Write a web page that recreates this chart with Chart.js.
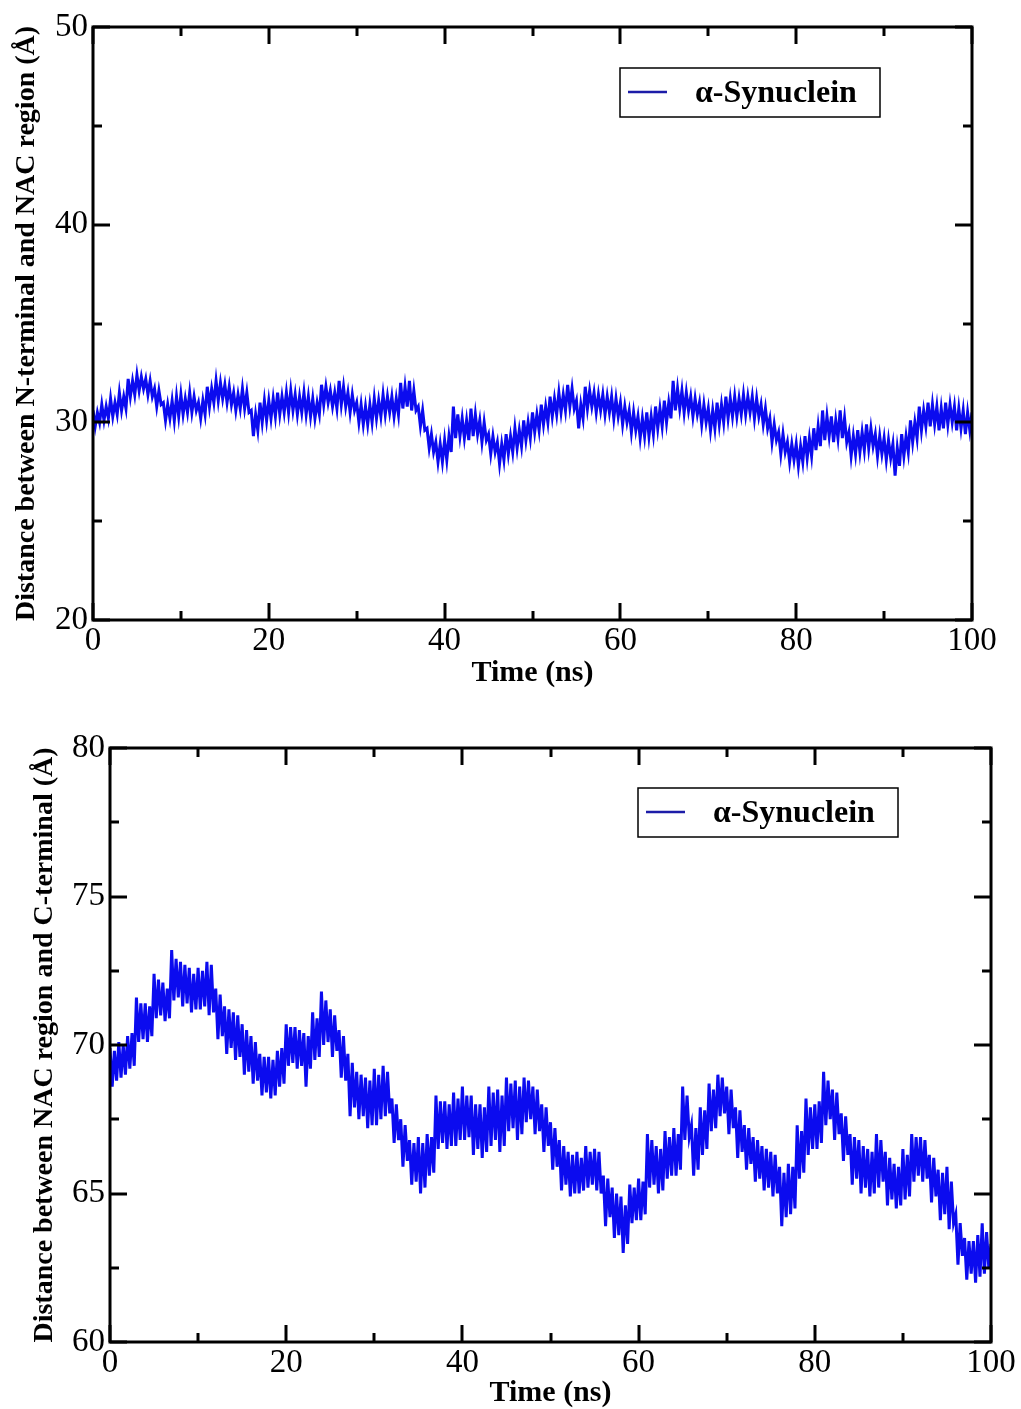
<!DOCTYPE html>
<html>
<head>
<meta charset="utf-8">
<script src="https://cdn.jsdelivr.net/npm/chart.js"></script>
<style>
  body { margin: 0; background: #fff; }
  #wrap { position: relative; width: 1021px; height: 1409px; }
  canvas { position: absolute; left: 0; }
</style>
</head>
<body>
<div id="wrap">
  <canvas id="topChart" width="1021" height="700" style="top:0"></canvas>
  <canvas id="bottomChart" width="1021" height="709" style="top:700px"></canvas>
</div>
<script>
// sampling interval of the trajectory (ns)
const timeStep = 0.25;

// distance between N-terminal and NAC region (Å), every 0.25 ns
const nTermNacDist = [
  30.6, 29.8, 30.5, 30.0, 30.9, 30.1, 30.8, 30.2, 31.2, 30.3, 31.0, 30.4, 31.5, 30.6, 31.3, 30.7, 32.2, 31.3, 32.1, 31.4,
  32.4, 31.6, 32.3, 31.7, 32.2, 31.4, 32.1, 31.3, 31.7, 30.8, 31.6, 30.9, 31.0, 30.1, 30.9, 30.2, 31.1, 30.1, 31.3, 30.3,
  31.4, 30.4, 31.2, 30.5, 31.5, 30.5, 31.3, 30.6, 31.0, 30.2, 31.1, 30.4, 31.8, 30.8, 31.7, 31.0, 32.1, 31.1, 32.0, 31.2,
  31.9, 31.0, 31.8, 30.9, 31.5, 30.6, 31.4, 30.7, 31.7, 30.7, 31.5, 30.5, 30.6, 29.3, 30.4, 29.6, 31.0, 30.0, 31.1, 30.1,
  31.1, 30.2, 31.2, 30.3, 31.5, 30.4, 31.3, 30.5, 31.5, 30.5, 31.6, 30.6, 31.4, 30.4, 31.3, 30.5, 31.5, 30.4, 31.3, 30.3,
  31.2, 30.2, 31.0, 30.4, 31.9, 30.9, 31.8, 31.0, 31.6, 30.8, 31.5, 30.7, 32.1, 30.9, 31.8, 30.8, 31.5, 30.5, 31.4, 30.6,
  31.0, 30.0, 30.9, 29.9, 30.8, 29.9, 30.9, 30.0, 31.2, 30.2, 31.1, 30.3, 31.4, 30.4, 31.3, 30.5, 31.3, 30.3, 31.2, 30.4,
  32.0, 30.7, 31.8, 30.8, 32.1, 30.6, 31.6, 30.6, 30.8, 29.8, 30.6, 29.6, 29.7, 28.7, 29.4, 28.5, 29.0, 28.0, 28.9, 28.0,
  29.1, 28.1, 29.3, 28.5, 30.8, 29.2, 30.4, 29.3, 30.2, 29.2, 30.1, 29.1, 30.7, 29.3, 30.4, 29.4, 30.1, 29.0, 30.0, 29.1,
  29.4, 28.4, 29.3, 28.5, 29.0, 27.9, 28.9, 28.1, 29.4, 28.4, 29.3, 28.5, 29.7, 28.7, 29.6, 28.8, 30.1, 29.1, 30.0, 29.2,
  30.5, 29.5, 30.4, 29.6, 30.9, 29.9, 30.8, 30.0, 31.3, 30.3, 31.2, 30.4, 31.5, 30.5, 31.4, 30.6, 31.9, 30.8, 31.7, 30.7,
  31.1, 29.7, 30.9, 30.2, 31.8, 30.7, 31.6, 30.8, 31.5, 30.5, 31.4, 30.6, 31.4, 30.4, 31.3, 30.5, 31.3, 30.2, 31.2, 30.3,
  31.0, 29.9, 30.8, 30.0, 30.6, 29.5, 30.5, 29.6, 30.3, 29.2, 30.2, 29.3, 30.5, 29.3, 30.3, 29.4, 30.8, 29.7, 30.7, 29.8,
  31.1, 30.0, 31.0, 30.2, 32.1, 30.6, 31.7, 30.7, 31.6, 30.5, 31.5, 30.6, 31.3, 30.3, 31.2, 30.4, 31.0, 29.9, 30.9, 30.0,
  30.7, 29.6, 30.6, 29.7, 31.0, 29.9, 30.9, 30.0, 31.3, 30.2, 31.2, 30.3, 31.3, 30.3, 31.2, 30.4, 31.4, 30.4, 31.3, 30.5,
  31.3, 30.2, 31.2, 30.3, 30.9, 29.9, 30.7, 29.7, 30.2, 29.0, 29.9, 29.1, 29.5, 28.4, 29.4, 28.5, 29.0, 28.0, 28.9, 28.1,
  28.9, 27.8, 28.8, 28.0, 29.3, 28.2, 29.2, 28.3, 29.7, 28.6, 29.8, 28.8, 30.6, 29.1, 30.3, 29.3, 30.3, 29.0, 30.1, 29.2,
  30.6, 29.2, 30.2, 29.0, 29.5, 28.3, 29.3, 28.4, 29.6, 28.5, 29.5, 28.6, 29.9, 28.7, 29.7, 28.8, 29.4, 28.3, 29.3, 28.4,
  29.2, 28.1, 29.1, 28.2, 28.9, 27.3, 28.7, 27.8, 29.4, 28.3, 29.3, 28.5, 30.1, 29.0, 30.0, 29.2, 30.8, 29.6, 30.6, 29.8,
  31.0, 29.8, 30.9, 29.9, 30.8, 29.6, 30.7, 29.7, 31.0, 29.9, 30.9, 30.0, 30.8, 29.6, 30.7, 29.7, 30.6, 29.4, 30.5, 29.6,
  30.5
];

// distance between NAC region and C-terminal (Å), every 0.25 ns
const nacCTermDist = [
  69.9, 68.6, 69.8, 68.8, 70.1, 68.9, 70.0, 69.0, 70.3, 69.2, 70.4, 69.3, 71.6, 70.1, 71.4, 70.2, 71.4, 70.1, 71.3, 70.3,
  72.4, 70.9, 72.2, 71.0, 72.1, 70.8, 71.9, 70.9, 73.2, 71.5, 72.9, 71.6, 72.8, 71.3, 72.7, 71.4, 72.6, 71.1, 72.4, 71.2,
  72.6, 71.2, 72.5, 71.3, 72.8, 71.0, 72.7, 71.1, 71.9, 70.2, 71.7, 70.3, 71.3, 69.7, 71.2, 69.9, 71.1, 69.5, 71.0, 69.6,
  70.7, 69.0, 70.5, 69.1, 70.3, 68.7, 70.1, 68.8, 69.7, 68.3, 69.6, 68.4, 69.6, 68.2, 69.5, 68.3, 69.8, 68.6, 69.9, 68.7,
  70.7, 69.3, 70.6, 69.4, 70.6, 69.2, 70.5, 69.3, 70.4, 68.6, 70.3, 69.2, 71.1, 69.5, 70.9, 69.6, 71.8, 70.0, 71.5, 70.1,
  71.2, 69.6, 71.0, 69.8, 70.5, 68.9, 70.3, 68.8, 69.7, 67.6, 69.4, 67.9, 69.1, 67.5, 69.0, 67.6, 68.9, 67.2, 68.8, 67.3,
  69.2, 67.3, 69.0, 67.5, 69.3, 67.6, 69.1, 67.7, 68.2, 66.7, 68.0, 66.8, 67.5, 65.9, 67.3, 66.1, 66.8, 65.3, 66.7, 65.4,
  66.9, 65.0, 66.7, 65.2, 67.0, 65.6, 66.9, 65.7, 68.3, 66.5, 68.1, 66.7, 68.1, 66.5, 68.0, 66.6, 68.4, 66.6, 68.2, 66.8,
  68.6, 66.8, 68.3, 66.9, 68.3, 66.3, 68.0, 66.5, 68.0, 66.2, 67.9, 66.4, 68.6, 66.6, 68.4, 66.8, 68.5, 66.4, 68.3, 66.6,
  68.9, 67.1, 68.7, 67.2, 68.8, 66.8, 68.6, 67.0, 68.9, 67.4, 68.8, 67.5, 68.6, 67.0, 68.5, 67.1, 68.0, 66.4, 67.9, 66.6,
  67.4, 65.8, 67.2, 65.9, 66.8, 65.1, 66.6, 65.3, 66.4, 64.9, 66.3, 65.0, 66.4, 65.0, 66.2, 65.1, 66.6, 65.2, 66.4, 65.3,
  66.5, 65.1, 66.4, 65.0, 65.6, 63.9, 65.5, 64.2, 65.2, 63.5, 65.0, 63.6, 64.9, 63.0, 64.6, 63.3, 65.3, 64.0, 65.2, 64.1,
  65.5, 64.1, 65.4, 64.3, 67.0, 65.2, 66.8, 65.3, 66.6, 65.0, 66.5, 65.1, 67.1, 65.5, 66.9, 65.6, 67.2, 65.6, 67.0, 65.8,
  68.6, 66.8, 68.3, 66.9, 67.3, 65.6, 67.2, 65.8, 67.9, 66.3, 67.8, 66.5, 68.7, 67.1, 68.5, 67.2, 69.0, 67.6, 68.9, 67.7,
  68.6, 67.0, 68.5, 67.2, 67.9, 66.2, 67.8, 66.4, 67.3, 65.8, 67.2, 66.0, 66.9, 65.4, 66.8, 65.5, 66.6, 65.1, 66.5, 65.2,
  66.4, 64.9, 66.3, 65.0, 65.9, 63.9, 65.7, 64.2, 66.0, 64.3, 65.9, 64.5, 67.3, 65.5, 67.1, 65.7, 68.2, 66.3, 67.9, 66.5,
  68.0, 66.5, 68.1, 66.7, 69.1, 67.3, 68.8, 67.5, 68.5, 66.8, 68.4, 67.0, 67.7, 66.1, 67.6, 66.3, 67.0, 65.3, 66.9, 65.5,
  66.8, 65.0, 66.6, 65.2, 66.5, 64.9, 66.4, 65.0, 67.0, 65.2, 66.8, 65.4, 66.4, 64.6, 66.2, 64.8, 66.0, 64.5, 65.9, 64.6,
  66.5, 64.8, 66.3, 64.9, 67.0, 65.4, 66.9, 65.6, 66.9, 65.4, 66.8, 65.5, 66.3, 64.7, 66.2, 64.9, 65.8, 64.1, 65.7, 64.3,
  65.9, 63.8, 65.4, 64.0, 64.3, 62.6, 64.0, 62.9, 63.5, 62.1, 63.4, 62.3, 63.4, 62.0, 63.6, 62.2, 64.0, 62.3, 63.7, 62.5,
  63.3
];

// axis ticks
const timeMajor = [0, 20, 40, 60, 80, 100];
const timeMinor = [10, 30, 50, 70, 90];
const topMajor = [20, 30, 40, 50];
const topMinor = [25, 35, 45];
const bottomMajor = [60, 65, 70, 75, 80];
const bottomMinor = [62.5, 67.5, 72.5, 77.5];

const seriesLabel = "\u03b1-Synuclein";
const lineColor = "#0b0bef";
const serif = "'Liberation Serif', 'Times New Roman', serif";

// frame, inward ticks on all four sides and the boxed legend
const frameTicks = {
  id: "frameTicks",
  afterDatasetsDraw(chart, args, opts) {
    const { ctx, chartArea: a, scales } = chart;
    const x = scales.x, y = scales.y;
    const line = (x1, y1, x2, y2) => {
      ctx.beginPath();
      ctx.moveTo(x1, y1);
      ctx.lineTo(x2, y2);
      ctx.stroke();
    };
    ctx.save();
    ctx.strokeStyle = "#000";
    ctx.lineWidth = 3;
    const xTicks = (vals, len) => vals.forEach((v) => {
      const px = Math.round(x.getPixelForValue(v));
      line(px, a.bottom, px, a.bottom - len);
      line(px, a.top, px, a.top + len);
    });
    const yTicks = (vals, len) => vals.forEach((v) => {
      const py = Math.round(y.getPixelForValue(v));
      line(a.left, py, a.left + len, py);
      line(a.right, py, a.right - len, py);
    });
    xTicks(opts.xMajor, 17);
    xTicks(opts.xMinor, 9);
    yTicks(opts.yMajor, 17);
    yTicks(opts.yMinor, 9);
    ctx.strokeRect(a.left, a.top, a.right - a.left, a.bottom - a.top);

    // legend box
    const lx = a.left + opts.legendX, ly = a.top + opts.legendY;
    ctx.fillStyle = "#fff";
    ctx.fillRect(lx, ly, 260, 49);
    ctx.lineWidth = 1.5;
    ctx.strokeRect(lx, ly, 260, 49);
    ctx.strokeStyle = "#1c1ca8";
    ctx.lineWidth = 2.5;
    line(lx + 8, ly + 24, lx + 47, ly + 24);
    ctx.fillStyle = "#000";
    ctx.font = "bold 32px " + serif;
    ctx.textBaseline = "middle";
    ctx.fillText(chart.data.datasets[0].label, lx + 75, ly + 26);
    ctx.restore();
  },
};

function makeChart(id, values, cfg) {
  const points = values.map((v, i) => ({ x: i * timeStep, y: v }));
  return new Chart(document.getElementById(id), {
    type: "line",
    data: {
      datasets: [{
        label: seriesLabel,
        data: points,
        borderColor: lineColor,
        borderWidth: 3,
        pointRadius: 0,
        tension: 0,
      }],
    },
    options: {
      responsive: false,
      animation: false,
      layout: { padding: { top: cfg.top, right: cfg.right, left: 0, bottom: 0 } },
      plugins: {
        legend: { display: false },
        tooltip: { enabled: false },
        frameTicks: {
          xMajor: timeMajor, xMinor: timeMinor,
          yMajor: cfg.yMajor, yMinor: cfg.yMinor,
          legendX: cfg.legendX, legendY: cfg.legendY,
        },
      },
      scales: {
        x: {
          type: "linear",
          min: 0,
          max: 100,
          afterBuildTicks: (s) => { s.ticks = timeMajor.map((v) => ({ value: v })); },
          afterFit: (s) => { s.height = cfg.xHeight; },
          grid: { display: false, drawTicks: false },
          border: { display: false },
          ticks: { color: "#000", padding: 2, font: { family: serif, size: 33 }, maxRotation: 0 },
          title: {
            display: true,
            text: "Time (ns)",
            color: "#000",
            font: { family: serif, size: 30, weight: "bold", lineHeight: 1 },
            padding: { top: 0, bottom: cfg.xTitlePad },
          },
        },
        y: {
          min: cfg.yMajor[0],
          max: cfg.yMajor[cfg.yMajor.length - 1],
          afterBuildTicks: (s) => { s.ticks = cfg.yMajor.map((v) => ({ value: v })); },
          afterFit: (s) => { s.width = cfg.yWidth; },
          grid: { display: false, drawTicks: false },
          border: { display: false },
          ticks: { color: "#000", padding: 5, font: { family: serif, size: 33 } },
          title: {
            display: true,
            text: cfg.yTitle,
            color: "#000",
            font: { family: serif, size: 28, weight: "bold", lineHeight: 1 },
            padding: { top: cfg.yTitlePad, bottom: 0 },
          },
        },
      },
    },
    plugins: [frameTicks],
  });
}

makeChart("topChart", nTermNacDist, {
  top: 27, right: 49, xHeight: 80, yWidth: 93,
  xTitlePad: 12, yTitlePad: 13,
  yMajor: topMajor, yMinor: topMinor,
  legendX: 527, legendY: 41,
  yTitle: "Distance between N-terminal and NAC region (\u00c5)",
});

makeChart("bottomChart", nacCTermDist, {
  top: 48, right: 30, xHeight: 67, yWidth: 110,
  xTitlePad: 1, yTitlePad: 31,
  yMajor: bottomMajor, yMinor: bottomMinor,
  legendX: 528, legendY: 40,
  yTitle: "Distance between NAC region and C-terminal (\u00c5)",
});
</script>
</body>
</html>
